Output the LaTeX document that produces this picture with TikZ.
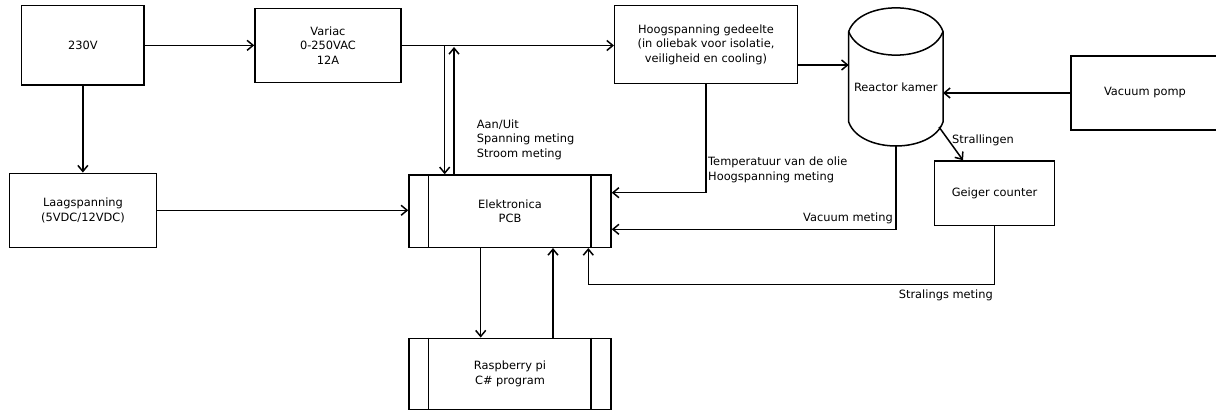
\documentclass[tikz,border=0pt]{standalone}
\usepackage{fontspec}
\setmainfont{DejaVu Sans}
\usetikzlibrary{arrows.meta}
\begin{document}
\begin{tikzpicture}[x=1pt,y=-1pt,
  every node/.style={font=\fontsize{11.4}{14.6}\selectfont, text=black},
  blk/.style n args={2}{draw, line width=1.5pt, minimum width=#1, minimum height=#2, align=center, inner sep=0pt},
  ln/.style={line width=1.5pt},
  arr/.style={line width=1.5pt, -{Straight Barb[length=6pt,width=10pt,line width=1.5pt]}},
  lab/.style={inner sep=0pt, align=left}]
\useasboundingbox (0,0) rectangle (1216,411);
\clip (0,0) rectangle (1216,411);
% boxes
\node[blk={122.3pt}{79.3pt}] (v230) at (82.85,45.35) {230V};
\node[blk={146pt}{74.4pt}] (variac) at (328,45.5) {Variac\\0-250VAC\\12A};
\node[blk={182.6pt}{77.6pt}] (hoog) at (706,44.5) {Hoogspanning gedeelte\\(in oliebak voor isolatie,\\veiligheid en cooling)};
\node[blk={148pt}{74pt}] (vac) at (1145,93) {Vacuum pomp};
\node[blk={147.4pt}{74pt}] (laag) at (83,210.3) {Laagspanning\\(5VDC/12VDC)};
\node[blk={202pt}{72.3pt}] (elek) at (510,211.15) {Elektronica\\PCB};
\node[blk={120.4pt}{64.7pt}] (geiger) at (994.5,193.35) {Geiger counter};
\node[blk={202pt}{71pt}] (rasp) at (510,373.8) {Raspberry pi\\C\# program};
\draw[ln] ([xshift=20pt]elek.north west) -- ([xshift=20pt]elek.south west);
\draw[ln] ([xshift=-21pt]elek.north east) -- ([xshift=-21pt]elek.south east);
\draw[ln] ([xshift=20pt]rasp.north west) -- ([xshift=20pt]rasp.south west);
\draw[ln] ([xshift=-21pt]rasp.north east) -- ([xshift=-21pt]rasp.south east);
% reactor cylinder
\node[minimum width=94.3pt, minimum height=138.5pt, inner sep=0pt, outer sep=0pt] (reactor) at (895.85,76.75) {};
\draw[ln, line join=round] (848.7,31.5) .. controls (860,0) and (932,0) .. (943,31.5)
  -- (943,122) .. controls (932,154) and (860,154) .. (848.7,122) -- cycle;
\draw[ln] (848.7,31.5) .. controls (860,63) and (932,63) .. (943,31.5);
\node (reactortxt) at (895.85,87.7) {Reactor kamer};
% connectors
\draw[arr] (v230.east) -- (variac.west |- v230.east);
\draw[arr] (v230.south) -- (laag.north -| v230.south);
\draw[arr] (variac.east) -- (hoog.west |- variac.east);
\draw[arr] (hoog.east |- 0,65) -- (reactor.west |- 0,65);
\draw[arr] (vac.west) -- (reactor.east |- vac.west);
\coordinate (tapA) at (444.7,45.7);
\coordinate (tapB) at (454,47);
\draw[arr] (tapA) -- (tapA |- elek.north);
\draw[arr] (tapB |- elek.north) -- (tapB);
\draw[arr] (laag.east) -- (elek.west |- laag.east);
\draw[arr] (hoog.south) -- (hoog.south |- 0,192.7) -- (elek.east |- 0,192.7);
\draw[arr] (reactor.south) -- (reactor.south |- 0,229.3) -- (elek.east |- 0,229.3);
\coordinate (sstart) at (939,127);
\draw[arr] (sstart) -- (geiger.north -| 963,0);
\coordinate (sc) at (588.3,284.3);
\draw[arr] (geiger.south) -- (geiger.south |- sc) -- (sc) -- (sc |- elek.south);
\draw[arr] (elek.south -| 480.7,0) -- (rasp.north -| 480.7,0);
\draw[arr] (rasp.north -| 553,0) -- (elek.south -| 553,0);
% labels
\node[lab, anchor=west] (l1) at (476.7,139.5) {Aan/Uit\\Spanning meting\\Stroom meting};
\node[lab, anchor=west] (l2) at (708,170) {Temperatuur van de olie\\Hoogspanning meting};
\node[lab, anchor=east] (l3) at (893,218.3) {Vacuum meting};
\node[lab, anchor=east] (l4) at (993,295) {Stralings meting};
\node[lab, anchor=west] (l5) at (952,140.7) {Strallingen};
\end{tikzpicture}
\end{document}
